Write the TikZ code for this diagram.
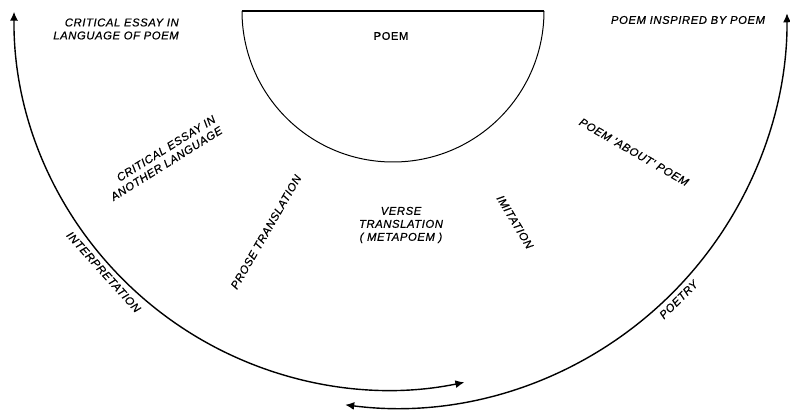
\documentclass[tikz,border=0pt]{standalone}
\usepackage{fontspec}
\newfontfamily\handfont{Liberation Sans}[LetterSpace=5, FakeBold=0.6]
\newfontfamily\titlefont{Liberation Sans}[LetterSpace=6, FakeBold=1]
\usetikzlibrary{arrows.meta}

\newcommand{\lettering}{\handfont\itshape\fontsize{11.3}{13}\selectfont}

\begin{document}
\begin{tikzpicture}[x=1pt,y=1pt,
    caps/.style={font=\lettering, inner sep=1pt},
    bigarc/.style={line width=1.4pt, {Latex[length=9pt,width=8pt]}-{Latex[length=9pt,width=8pt]}}]

\useasboundingbox (0,0) rectangle (790,412);

% Centres of the circles
\coordinate (poemC) at (393,401);
\coordinate (interpC) at (389,397);
\coordinate (poetryC) at (395,396);

% Poem half-disc
\draw[line width=1pt] (poemC) ++(-151,0) arc[start angle=180, end angle=360, radius=151pt];
\draw[line width=1.8pt] (poemC) ++(-151,0) -- ++(302,0);
\node[font=\titlefont\fontsize{11}{13}\selectfont] (poem) at (391,376) {POEM};

% Interpretation arc
\draw[bigarc] (interpC) ++(179.5:375) arc[start angle=179.5, end angle=281.6, radius=375pt];
\path (interpC) ++(222:384) node[caps, rotate=-48] (interp) {INTERPRETATION};

% Poetry arc
\draw[bigarc] (poetryC) ++(-97.3:392) arc[start angle=-97.3, end angle=0.4, radius=392pt];
\path (poetryC) ++(315:401) node[caps, rotate=45] (poetry) {POETRY};

% Kinds of answer to the poem
\node[caps, align=right] (essayOwn) at (116,383) {CRITICAL ESSAY IN\\LANGUAGE OF POEM};
\node[caps] (inspired) at (688,392) {POEM INSPIRED BY POEM};
\node[caps, align=right, rotate=32] (essayOther) at (163,254) {CRITICAL ESSAY IN\\ANOTHER LANGUAGE};
\node[caps, rotate=60] (prose) at (266,180) {PROSE TRANSLATION};
\node[caps, align=center] (verse) at (401,187) {VERSE\\TRANSLATION\\( METAPOEM )};
\node[caps, rotate=-59] (imit) at (515,190) {IMITATION};
\node[caps, rotate=-30] (about) at (634,260) {POEM 'ABOUT' POEM};

\end{tikzpicture}
\end{document}
